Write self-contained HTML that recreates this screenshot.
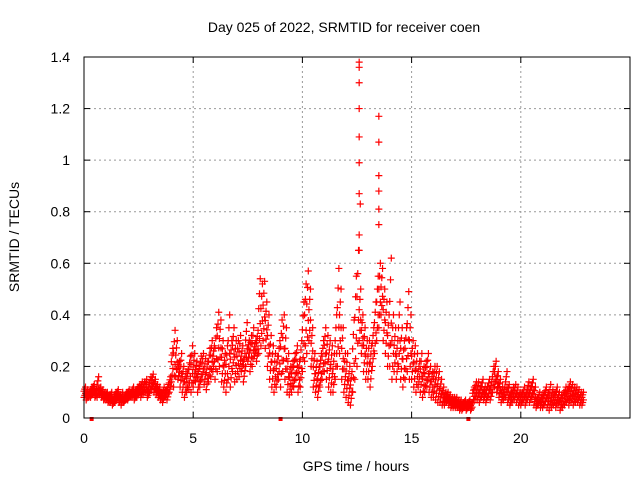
<!DOCTYPE html>
<html><head><meta charset="utf-8"><style>
html,body{margin:0;padding:0;background:#fff;}
svg{display:block;font-family:"Liberation Sans",sans-serif;}
</style></head><body>
<svg id="chart" width="640" height="480" viewBox="0 0 640 480">
<text x="344" y="32" text-anchor="middle" font-size="14">Day 025 of 2022, SRMTID for receiver coen</text>
<text x="356" y="471" text-anchor="middle" font-size="14">GPS time / hours</text>
<text transform="translate(19,237) rotate(-90)" text-anchor="middle" font-size="14">SRMTID / TECUs</text>
<g id="grid"></g>
<g id="ticks"></g>
<g id="marks"></g>
<rect x="84" y="57" width="546" height="361" fill="none" stroke="#000" stroke-width="1"/>
</svg>
<script>
const xTicks=[0,5,10,15,20];
const yTicks=[0,0.2,0.4,0.6,0.8,1,1.2,1.4];
const yTickLabels=["0","0.2","0.4","0.6","0.8","1","1.2","1.4"];
const startHour=0, stepHour=0.1;
const lowVals=[.08,.07,.08,.08,.09,.08,.08,.09,.08,.07,
.07,.06,.06,.05,.06,.07,.06,.05,.06,.07,
.07,.08,.08,.07,.08,.09,.08,.09,.1,.08,
.1,.11,.1,.09,.08,.07,.06,.08,.07,.1,
.14,.12,.16,.15,.12,.1,.08,.1,.11,.1,
.12,.14,.1,.12,.15,.13,.11,.14,.16,.18,
.15,.18,.2,.14,.12,.1,.15,.12,.18,.14,
.15,.16,.18,.14,.2,.22,.18,.2,.24,.22,
.25,.28,.3,.27,.2,.15,.12,.1,.12,.15,
.12,.18,.15,.1,.09,.1,.12,.15,.1,.12,
.18,.22,.25,.3,.2,.12,.1,.08,.12,.15,
.18,.15,.12,.1,.1,.15,.2,.25,.15,.1,
.08,.06,.05,.1,.15,.2,.3,.25,.18,.15,
.15,.12,.2,.25,.3,.35,.4,.3,.25,.2,
.2,.15,.18,.15,.2,.15,.12,.15,.18,.15,
.15,.12,.1,.12,.1,.08,.1,.12,.1,.08,
.08,.07,.06,.06,.05,.05,.06,.05,.04,.04,
.04,.04,.03,.03,.04,.03,.04,.03,.06,.07,
.07,.06,.08,.07,.06,.08,.07,.1,.12,.1,
.08,.06,.07,.08,.06,.05,.06,.07,.06,.05,
.05,.06,.05,.07,.06,.08,.05,.04,.05,.04,
.04,.05,.04,.03,.04,.05,.04,.05,.03,.04,
.05,.06,.05,.06,.05,.06,.06,.05,.05];
const highVals=[.12,.11,.1,.12,.13,.11,.16,.12,.11,.1,
.1,.09,.1,.08,.1,.11,.09,.1,.08,.1,
.11,.1,.12,.11,.12,.13,.14,.14,.15,.12,
.16,.17,.15,.13,.12,.1,.12,.11,.13,.16,
.27,.34,.3,.22,.25,.2,.18,.19,.24,.28,
.25,.22,.2,.24,.25,.23,.22,.27,.3,.28,
.35,.41,.38,.3,.25,.28,.4,.3,.35,.3,
.3,.32,.28,.25,.37,.3,.32,.35,.3,.34,
.54,.52,.53,.45,.4,.32,.28,.25,.24,.3,
.38,.4,.35,.25,.2,.22,.25,.28,.22,.3,
.45,.52,.57,.5,.35,.25,.22,.2,.25,.3,
.35,.32,.3,.28,.25,.4,.58,.5,.35,.25,
.25,.2,.18,.38,.55,.65,.5,.4,.35,.3,
.3,.28,.35,.45,.55,.6,.58,.5,.45,.4,
.62,.4,.35,.3,.45,.35,.3,.35,.49,.4,
.3,.28,.25,.22,.25,.2,.22,.25,.2,.18,
.2,.2,.18,.15,.12,.1,.1,.09,.08,.08,
.08,.07,.07,.06,.07,.06,.07,.06,.12,.14,
.14,.12,.15,.12,.12,.15,.14,.2,.22,.18,
.15,.12,.12,.18,.13,.1,.12,.13,.12,.1,
.1,.12,.1,.14,.12,.15,.12,.08,.1,.09,
.1,.12,.1,.13,.11,.1,.12,.1,.09,.1,
.12,.12,.14,.13,.12,.12,.11,.1,.1];
const spikeTimes=[12.6,12.6,12.6,12.6,12.6,12.6,12.6,12.65,12.6,12.6,13.5,13.5,13.5,13.5,13.5,13.5];
const spikeValues=[1.38,1.36,1.3,1.2,1.09,0.99,0.87,0.83,0.71,0.65,1.17,1.07,0.94,0.88,0.81,0.75];
const zeroTimes=[0.35,9.0,17.6];

const NS="http://www.w3.org/2000/svg";
const X0=84,X1=630,Y0=418,Y1=57;
const xScale=h=>X0+h*(X1-X0)/25;
const yScale=v=>Y0-v*(Y0-Y1)/1.4;
const grid=document.getElementById('grid'),ticks=document.getElementById('ticks'),marks=document.getElementById('marks');
function mk(tag,attrs,parent){const e=document.createElementNS(NS,tag);for(const k in attrs)e.setAttribute(k,attrs[k]);parent.appendChild(e);return e;}
yTicks.forEach((v,i)=>{
  const y=yScale(v);
  if(i>0&&i<yTicks.length-1){const g=mk('line',{x1:X0,x2:X1,y1:y,y2:y,stroke:'#999','stroke-dasharray':'2,3'},grid);
  
  }
  mk('line',{x1:X0,x2:X0+6,y1:y,y2:y,stroke:'#000'},ticks);
  mk('line',{x1:X1,x2:X1-6,y1:y,y2:y,stroke:'#000'},ticks);
  const t=mk('text',{x:X0-14,y:y+5,'text-anchor':'end','font-size':'14'},ticks);
  t.textContent=yTickLabels[i];
  
  
});
xTicks.forEach(h=>{
  const x=xScale(h);
  if(h>0){const g=mk('line',{x1:x,x2:x,y1:Y0,y2:Y1,stroke:'#999','stroke-dasharray':'2,3'},grid);
  
  }
  mk('line',{x1:x,x2:x,y1:Y0,y2:Y0-6,stroke:'#000'},ticks);
  mk('line',{x1:x,x2:x,y1:Y1,y2:Y1+6,stroke:'#000'},ticks);
  const t=mk('text',{x:x,y:Y0+25,'text-anchor':'middle','font-size':'14'},ticks);
  t.textContent=String(h);
  
  
});
function cross(h,v,color){
  const x=xScale(h),y=yScale(v);
  const p=mk('path',{d:`M${x-3.5},${y}H${x+3.5}M${x},${y-3.5}V${y+3.5}`,stroke:color,'stroke-width':'1.2'},marks);
  
  
}
// each sample interval is drawn as a column of crosses spanning its low..high range
const fracs=[0,0.2,0.4,0.6,0.8,1];
const offs=[0,0.035,0.07];
lowVals.forEach((lo,i)=>{
  const hi=highVals[i];
  const h=startHour+i*stepHour;
  fracs.forEach((f,k)=>cross(h+offs[k%3],lo+(hi-lo)*f,'#f00'));
});
spikeValues.forEach((v,i)=>cross(spikeTimes[i],v,'#f00'));
zeroTimes.forEach(h=>{
  const r=mk('rect',{x:xScale(h)-2,y:Y0-1,width:4,height:4,fill:'#f00'},marks);
  
  
});
</script>
</body></html>
